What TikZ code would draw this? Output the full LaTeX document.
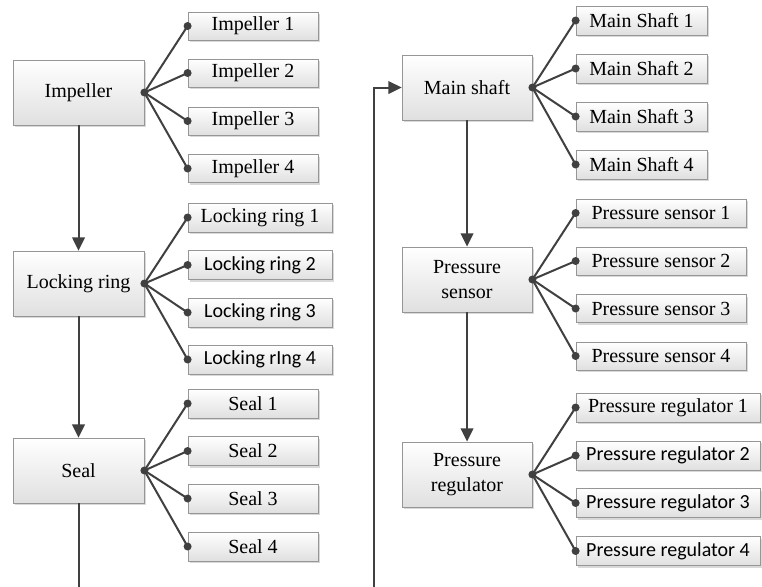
\documentclass[tikz,border=0pt]{standalone}
\usepackage{fontspec}
\setmainfont{Liberation Serif}
\newfontfamily\calfont{Carlito}
\usetikzlibrary{arrows.meta,shadows}
\definecolor{linec}{RGB}{64,64,64}
\definecolor{boxborder}{RGB}{150,150,150}
\definecolor{boxbottom}{RGB}{224,224,224}
\tikzset{
  box/.style 2 args={draw=boxborder, line width=0.6pt, top color=white, bottom color=boxbottom,
    drop shadow={shadow xshift=1.5pt, shadow yshift=-1.5pt, fill=black!25, opacity=0.6},
    inner sep=0pt, align=center, font=\fontsize{15}{18.75}\selectfont,
    minimum width=#1*0.75pt, minimum height=#2*0.75pt},
  conn/.style={draw=linec, line width=1.5pt},
  arr/.style={conn, -{Triangle[length=10pt,width=9.5pt]}},
  dotc/.style={fill=linec}
}
\newcommand{\fan}[5]{%
  \foreach \nn in {#2,#3,#4,#5}{%
    \draw[conn] (#1.east) -- (\nn.west);
    \fill[dotc] (\nn.west) circle (3pt);}%
  \fill[dotc] (#1.east) circle (3pt);%
}
\begin{document}
\begin{tikzpicture}[x=0.75pt,y=-0.75pt]
\useasboundingbox (0,0) rectangle (762,586);
% left column parents
\node[box={131}{65}] (imp) at (78.5,92.5) {Impeller};
\node[box={131}{65}] (lock) at (78.5,283.5) {Locking ring};
\node[box={131}{65}] (seal) at (78.5,470.5) {Seal};
% impeller children
\node[box={130}{28}] (imp1) at (253,26) {Impeller 1};
\node[box={130}{28}] (imp2) at (253,73) {Impeller 2};
\node[box={130}{28}] (imp3) at (253,121) {Impeller 3};
\node[box={130}{28}] (imp4) at (253,168.5) {Impeller 4};
% locking ring children
\node[box={144}{29}] (lock1) at (260,217.5) {Locking ring 1};
\node[box={144}{29}] (lock2) at (260,265) {\calfont Locking ring 2};
\node[box={144}{29}] (lock3) at (260,312.5) {\calfont Locking ring 3};
\node[box={144}{29}] (lock4) at (260,359.5) {\calfont Locking rIng 4};
% seal children
\node[box={130}{29}] (seal1) at (253,403.5) {Seal 1};
\node[box={130}{29}] (seal2) at (253,451) {Seal 2};
\node[box={130}{29}] (seal3) at (253,498.5) {Seal 3};
\node[box={130}{29}] (seal4) at (253,546.5) {Seal 4};
% right column parents
\node[box={130}{65}] (ms) at (467,87.5) {Main shaft};
\node[box={130}{65}] (ps) at (467,279.5) {Pressure\\sensor};
\node[box={130}{65}] (pr) at (467,474.5) {Pressure\\regulator};
% main shaft children
\node[box={131}{29}] (ms1) at (641.5,20.5) {Main Shaft 1};
\node[box={131}{29}] (ms2) at (641.5,68.5) {Main Shaft 2};
\node[box={131}{29}] (ms3) at (641.5,116.5) {Main Shaft 3};
\node[box={131}{29}] (ms4) at (641.5,164.5) {Main Shaft 4};
% pressure sensor children
\node[box={170}{28}] (ps1) at (661,213) {Pressure sensor 1};
\node[box={170}{28}] (ps2) at (661,261) {Pressure sensor 2};
\node[box={170}{28}] (ps3) at (661,308.5) {Pressure sensor 3};
\node[box={170}{28}] (ps4) at (661,356) {Pressure sensor 4};
% pressure regulator children
\node[box={184}{29}] (pr1) at (668,407.5) {Pressure regulator 1};
\node[box={184}{29}] (pr2) at (668,455.5) {\calfont Pressure regulator 2};
\node[box={184}{29}] (pr3) at (668,503) {\calfont Pressure regulator 3};
\node[box={184}{29}] (pr4) at (668,551) {\calfont Pressure regulator 4};
% fans
\fan{imp}{imp1}{imp2}{imp3}{imp4}
\fan{lock}{lock1}{lock2}{lock3}{lock4}
\fan{seal}{seal1}{seal2}{seal3}{seal4}
\fan{ms}{ms1}{ms2}{ms3}{ms4}
\fan{ps}{ps1}{ps2}{ps3}{ps4}
\fan{pr}{pr1}{pr2}{pr3}{pr4}
% flow arrows
\draw[arr] (imp.south) -- (lock.north);
\draw[arr] (lock.south) -- (seal.north);
\draw[arr] (ms.south) -- (ps.north);
\draw[arr] (ps.south) -- (pr.north);
\coordinate (loop) at (374,590);
\draw[arr] (seal.south) |- (loop) |- (ms.west);
\end{tikzpicture}
\end{document}
